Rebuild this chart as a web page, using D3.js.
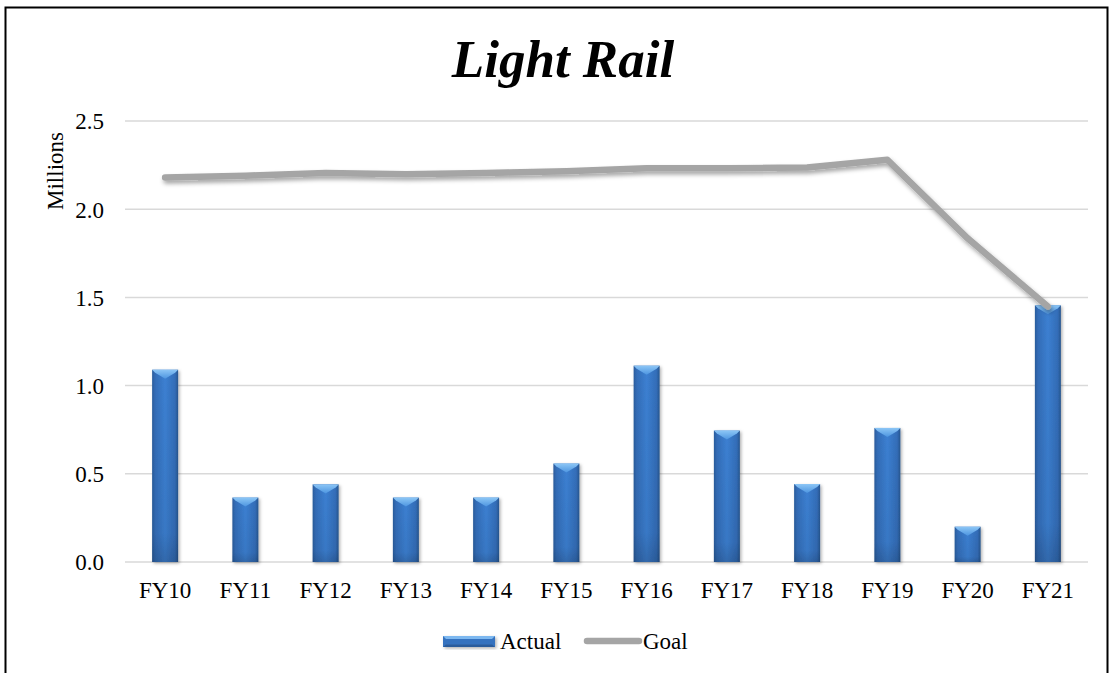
<!DOCTYPE html>
<html>
<head>
<meta charset="utf-8">
<script src="https://cdn.jsdelivr.net/npm/d3@7"></script>
<style>
  html, body { margin: 0; padding: 0; background: #fff; }
  svg { display: block; }
  text { font-family: "Liberation Serif", "Times New Roman", serif; fill: #000; }
</style>
</head>
<body>
<svg id="chart" width="1112" height="673"></svg>
<script>
// Light rail ridership, millions
const categories = ["FY10", "FY11", "FY12", "FY13", "FY14", "FY15", "FY16", "FY17", "FY18", "FY19", "FY20", "FY21"];
const actual = [1.09, 0.365, 0.44, 0.365, 0.365, 0.558, 1.113, 0.745, 0.442, 0.76, 0.2, 1.455];
const goal = [2.18, 2.19, 2.205, 2.198, 2.205, 2.215, 2.232, 2.232, 2.236, 2.28, 1.835, 1.448];
const yTicks = [0, 0.5, 1.0, 1.5, 2.0, 2.5];
const seriesNames = ["Actual", "Goal"];

const svg = d3.select("#chart");
const defs = svg.append("defs");
const fs = 23;

// Bar body: darker edges, brighter middle
const bodyGrad = defs.append("linearGradient").attr("id", "barBody")
  .attr("x1", "0").attr("x2", "1").attr("y1", "0").attr("y2", "0");
[[0, "#2a5c9c"], [0.12, "#336db8"], [0.5, "#3c80d2"], [0.88, "#336db8"], [1, "#27568f"]]
  .forEach(([o, c]) => bodyGrad.append("stop").attr("offset", o).attr("stop-color", c));

const bodyVGrad = defs.append("linearGradient").attr("id", "barShade")
  .attr("x1", "0").attr("x2", "0").attr("y1", "0").attr("y2", "1");
bodyVGrad.append("stop").attr("offset", 0).attr("stop-color", "#000").attr("stop-opacity", 0);
bodyVGrad.append("stop").attr("offset", 0.85).attr("stop-color", "#000").attr("stop-opacity", 0.06);
bodyVGrad.append("stop").attr("offset", 1).attr("stop-color", "#000").attr("stop-opacity", 0.18);

// Bevel cap
const capGrad = defs.append("linearGradient").attr("id", "barCap")
  .attr("x1", "0").attr("x2", "0").attr("y1", "0").attr("y2", "1");
capGrad.append("stop").attr("offset", 0).attr("stop-color", "#8cc6f6");
capGrad.append("stop").attr("offset", 1).attr("stop-color", "#4d95e0");

// Soft drop shadows
const barShadow = defs.append("filter").attr("id", "barShadow")
  .attr("x", "-30%").attr("y", "-10%").attr("width", "160%").attr("height", "130%");
barShadow.append("feDropShadow").attr("dx", 1.5).attr("dy", 1.5).attr("stdDeviation", 1.6)
  .attr("flood-color", "#000").attr("flood-opacity", 0.3);

const lineShadow = defs.append("filter").attr("id", "lineShadow")
  .attr("x", "-5%").attr("y", "-20%").attr("width", "110%").attr("height", "140%");
lineShadow.append("feDropShadow").attr("dx", 1.5).attr("dy", 3).attr("stdDeviation", 2.2)
  .attr("flood-color", "#000").attr("flood-opacity", 0.35);

// Frame
svg.append("path")
  .attr("d", "M5.5,680 V7.5 H1107.5 V680")
  .attr("fill", "none").attr("stroke", "#000").attr("stroke-width", 2);

// Title
svg.append("text")
  .attr("x", 563).attr("y", 77)
  .attr("text-anchor", "middle")
  .attr("font-size", 53).attr("font-weight", "bold").attr("font-style", "italic")
  .text("Light Rail");

// Scales
const x = d3.scaleBand().domain(categories).range([125, 1088])
  .paddingInner(0.676).paddingOuter(0.338);
const y = d3.scaleLinear().domain([0, 2.5]).range([562, 121]);

// Gridlines
svg.append("g").selectAll("line").data(yTicks).join("line")
  .attr("x1", 125).attr("x2", 1088)
  .attr("y1", d => y(d)).attr("y2", d => y(d))
  .attr("stroke", "#d9d9d9").attr("stroke-width", 1.5);

// Y axis labels
const yAxis = d3.axisLeft(y).tickValues(yTicks).tickFormat(d3.format(".1f")).tickSize(0).tickPadding(0);
const gy = svg.append("g").attr("transform", "translate(104,0)").call(yAxis);
gy.select(".domain").remove();
gy.selectAll("text").attr("font-size", fs).attr("font-family", "Liberation Serif").attr("dy", "0.34em");

// Display-unit label
svg.append("text")
  .attr("transform", "translate(63,171) rotate(-90)")
  .attr("text-anchor", "middle")
  .attr("font-size", fs)
  .text("Millions");

// X axis labels
const xAxis = d3.axisBottom(x).tickSize(0).tickPadding(0);
const gx = svg.append("g").attr("transform", "translate(0,598)").call(xAxis);
gx.select(".domain").remove();
gx.selectAll("text").attr("font-size", fs).attr("font-family", "Liberation Serif").attr("dy", "0");

// Bars
const bw = x.bandwidth();
const bars = svg.append("g").selectAll("g").data(categories).join("g")
  .attr("filter", "url(#barShadow)");
bars.append("rect")
  .attr("x", d => x(d)).attr("y", (d, i) => y(actual[i]))
  .attr("width", bw).attr("height", (d, i) => y(0) - y(actual[i]))
  .attr("fill", "url(#barBody)");
bars.append("rect")
  .attr("x", d => x(d)).attr("y", (d, i) => y(actual[i]))
  .attr("width", bw).attr("height", (d, i) => y(0) - y(actual[i]))
  .attr("fill", "url(#barShade)");
bars.append("path")
  .attr("d", (d, i) => {
    const x0 = x(d), x1 = x(d) + bw, t = y(actual[i]), c = x0 + bw / 2;
    return `M${x0},${t} H${x1} L${x1 - 3},${t + 3} L${c},${t + 9} L${x0 + 3},${t + 3} Z`;
  })
  .attr("fill", "url(#barCap)");

// Goal line
const line = d3.line()
  .x((d, i) => x(categories[i]) + bw / 2)
  .y(d => y(d));
svg.append("path")
  .datum(goal)
  .attr("d", line)
  .attr("fill", "none")
  .attr("stroke", "#a5a5a5")
  .attr("stroke-width", 6.5)
  .attr("stroke-linecap", "round")
  .attr("stroke-linejoin", "round")
  .attr("filter", "url(#lineShadow)");

// Legend
const legend = svg.append("g");
const lg0 = legend.append("g").attr("filter", "url(#barShadow)");
lg0.append("rect").attr("x", 443).attr("y", 636).attr("width", 52).attr("height", 11)
  .attr("fill", "#3672bf");
lg0.append("path").attr("d", "M443,636 H495 L492,639 H446 Z").attr("fill", "#7db8f0");
lg0.append("path").attr("d", "M443,647 H495 L492,644.5 H446 Z").attr("fill", "#2a5c9c");
legend.append("text").attr("x", 500).attr("y", 649).attr("font-size", fs).text(seriesNames[0]);
legend.append("line").attr("x1", 587).attr("x2", 639).attr("y1", 641).attr("y2", 641)
  .attr("stroke", "#a5a5a5").attr("stroke-width", 6.5).attr("stroke-linecap", "round");
legend.append("text").attr("x", 643).attr("y", 649).attr("font-size", fs).text(seriesNames[1]);
</script>
</body>
</html>
